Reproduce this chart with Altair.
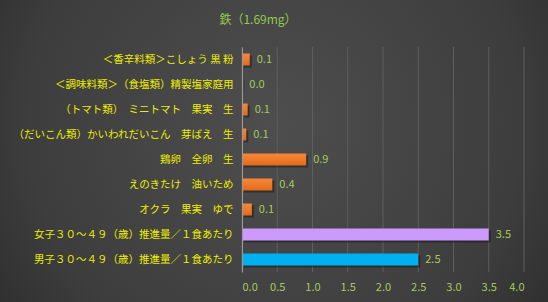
import altair as alt
import pandas as pd

TITLE = "鉄（1.69mg）"
categories = [
    "＜香辛料類＞こしょう 黒 粉",
    "＜調味料類＞（食塩類）精製塩家庭用",
    "（トマト類）　ミニトマト　果実　生",
    "（だいこん類）かいわれだいこん　芽ばえ　生",
    "鶏卵　全卵　生",
    "えのきたけ　油いため",
    "オクラ　果実　ゆで",
    "女子３０～４９（歳）推進量／１食あたり",
    "男子３０～４９（歳）推進量／１食あたり",
]
values = [0.11, 0.004, 0.08, 0.06, 0.91, 0.43, 0.14, 3.5, 2.5]
kinds = ["食品"] * 7 + ["女子", "男子"]
tick_values = [0.0, 0.5, 1.0, 1.5, 2.0, 2.5, 3.0, 3.5, 4.0]

df = pd.DataFrame({"cat": categories, "val": values, "kind": kinds})
ticks = pd.DataFrame({"val": tick_values})
one = pd.DataFrame({"a": [0]})

W, H = 282, 225
L, T = 242, 47
FONT = "Noto Sans CJK JP"
GREEN = "#a9c95a"

x_axis = alt.Axis(
    title=None, values=tick_values, format=".1f", grid=False, ticks=False,
    domain=False, labelColor=GREEN, labelFont=FONT, labelFontSize=11,
    labelPadding=9, zindex=1,
)
x_scale = alt.Scale(domain=[0, 4], nice=False, zero=True)
x_enc = alt.X("val:Q", scale=x_scale, axis=x_axis)
y_enc = alt.Y(
    "cat:N",
    sort=categories,
    scale=alt.Scale(paddingInner=0.52, paddingOuter=0.26),
    axis=alt.Axis(
        title=None, ticks=False, domainColor="#9a9a9a", domainWidth=1,
        labelColor="#eeee00", labelFont=FONT, labelFontSize=10.5,
        labelPadding=9, labelLimit=400, zindex=1,
    ),
)

bg_grad = alt.RadialGradient(
    gradient="radial",
    x1=0.5, y1=0.45, r1=0.0,
    x2=0.5, y2=0.45, r2=0.75,
    stops=[
        alt.GradientStop(offset=0, color="#4e4e4e"),
        alt.GradientStop(offset=0.6, color="#3d3d3d"),
        alt.GradientStop(offset=1, color="#232323"),
    ],
)

bg = alt.Chart(one).mark_rect(fill=bg_grad).encode(
    x=alt.value(-L), x2=alt.value(548 - L), y=alt.value(-T), y2=alt.value(302 - T)
)
title = alt.Chart(one).mark_text(
    text=TITLE, color="#92c84e", font=FONT, fontSize=12, align="center", baseline="middle"
).encode(x=alt.value(258 - L), y=alt.value(20 - T))

grid = alt.Chart(ticks).mark_rule(color="#5e5e5e", strokeWidth=1).encode(
    x=x_enc, y=alt.value(0), y2=alt.value(H),
)

shadow = alt.Chart(df).mark_bar(
    color="#111111", opacity=0.45, xOffset=2, x2Offset=2, yOffset=2, y2Offset=2
).encode(x=x_enc, y=y_enc)

orange_grad = alt.LinearGradient(
    gradient="linear", x1=0, y1=0, x2=0, y2=1,
    stops=[
        alt.GradientStop(offset=0, color="#f5873a"),
        alt.GradientStop(offset=0.5, color="#f07a2a"),
        alt.GradientStop(offset=1, color="#e0691c"),
    ],
)
food = alt.Chart(df).transform_filter(alt.datum.kind == "食品").mark_bar(
    fill=orange_grad
).encode(x=x_enc, y=y_enc)
ref = alt.Chart(df).transform_filter(alt.datum.kind != "食品").mark_bar().encode(
    x=x_enc, y=y_enc,
    color=alt.Color("kind:N", scale=alt.Scale(domain=["女子", "男子"], range=["#cc99ff", "#00b0f0"]), legend=None),
)

labels = alt.Chart(df).mark_text(
    align="left", baseline="middle", dx=7, color=GREEN, font=FONT, fontSize=11
).encode(x=x_enc, y=y_enc, text=alt.Text("val:Q", format=".1f"))

chart = alt.layer(bg, title, grid, shadow, food, ref, labels).properties(
    width=W, height=H,
    autosize=alt.AutoSizeParams(type="none"),
    padding={"left": L, "top": T, "right": 548 - L - W, "bottom": 302 - T - H},
    background="#333333",
).configure_view(strokeWidth=0)

chart.save("out.html", embed_options={"renderer": "svg", "actions": False})
